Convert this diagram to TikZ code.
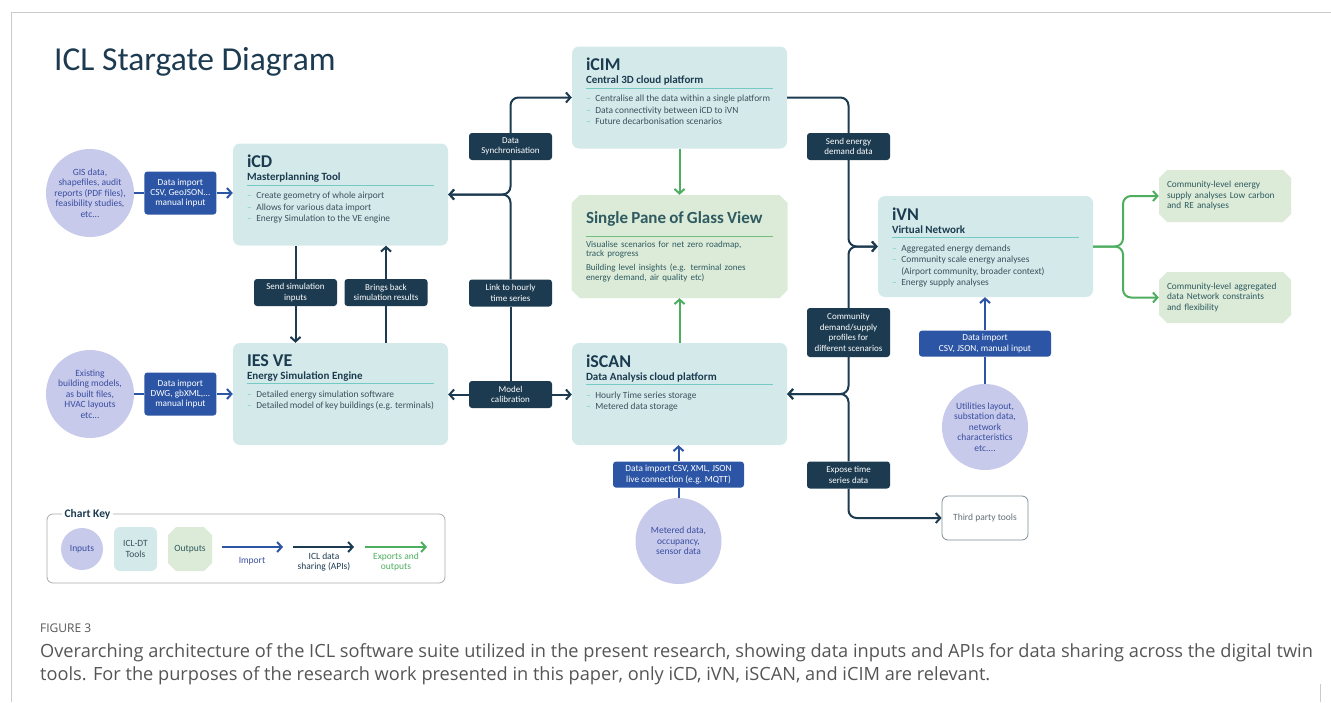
\documentclass[tikz,border=0pt]{standalone}
\usepackage{fontspec}
\setmainfont{Carlito}
\newfontfamily\capfont{Open Sans}
\usetikzlibrary{shapes.misc,positioning,arrows.meta}
\definecolor{navy}{HTML}{1C3B50}
\definecolor{impblue}{HTML}{2C55A5}
\definecolor{inpfill}{HTML}{C8CAEB}
\definecolor{inptext}{HTML}{3A4EA0}
\definecolor{toolfill}{HTML}{D4EAEA}
\definecolor{sepc}{HTML}{74CBC3}
\definecolor{bodytext}{HTML}{3B4F5C}
\definecolor{outfill}{HTML}{DCEBD8}
\definecolor{outtext}{HTML}{2E5A60}
\definecolor{expgreen}{HTML}{4DAE60}
\definecolor{keygray}{HTML}{A9A9A9}
\definecolor{thirdc}{HTML}{7D8B96}
\definecolor{capgray}{HTML}{555555}
\newcommand\toolhead[2]{\vspace*{2.5pt}{\color{navy}\fontsize{18}{18}\selectfont\bfseries #1\par}%
  {\color{navy}\fontsize{11}{13}\selectfont\bfseries #2\strut\par}%
  \nointerlineskip\noindent\textcolor{sepc}{\rule{187pt}{0.9pt}}\par\vspace{1.5pt}}
\newcommand\itm{\textcolor{sepc}{--}\enspace}
\newcommand\itmgap{\hphantom{--}\enspace}
\begin{document}
\begin{tikzpicture}[x=1pt,y=-1pt,every node/.style={inner sep=2pt},font=\fontsize{9.5}{10.4}\selectfont]
\tikzstyle{tool}=[fill=toolfill,rounded corners=7pt,inner xsep=14pt,inner ysep=9pt,font=\fontsize{9.4}{11.6}\selectfont,text=bodytext]
\tikzstyle{lbl}=[fill=navy,text=white,rounded corners=3pt,minimum width=83pt,minimum height=27pt,align=center,font=\fontsize{9}{10.4}\selectfont,inner sep=1pt]
\tikzstyle{imp}=[fill=impblue,text=white,rounded corners=3pt,align=center,font=\fontsize{9.3}{10.4}\selectfont,inner sep=1pt]
\tikzstyle{inp}=[circle,fill=inpfill,text=inptext,align=center,minimum size=88pt,inner sep=0pt]
\tikzstyle{outb}=[chamfered rectangle,chamfered rectangle xsep=4pt,chamfered rectangle ysep=4pt,fill=outfill,text=outtext,align=left]
\tikzstyle{api}=[draw=navy,line width=2pt,rounded corners=8pt]
\tikzstyle{impl}=[draw=impblue,line width=2pt]
\tikzstyle{expl}=[draw=expgreen,line width=2pt,rounded corners=8pt]
\tikzstyle{arrow}=[-{Straight Barb[length=4.5pt,width=10pt]}]
\useasboundingbox (0,0) rectangle (1331,702);
\draw[keygray!60,line width=0.6pt] (11,702)--(11,12)--(1331,12);
\draw[keygray!60,line width=0.6pt] (1320,684)--(1320,702);

\node[anchor=west,text=navy,font=\fontsize{33.5}{34}\selectfont] (title) at (52,62) {ICL Stargate Diagram};

% inputs on the left
\node[inp] (GIS) at (90,193) {GIS data,\\shapefiles, audit\\reports (PDF files),\\feasibility studies,\\etc...};
\node[imp,right=10pt of GIS,minimum width=72pt,minimum height=43pt] (ImpCD) {Data import\\CSV, GeoJSON...\\manual input};
\node[inp] (Exist) at (90,394) {Existing\\building models,\\as built files,\\HVAC layouts\\etc...};
\node[imp,right=10pt of Exist,minimum width=72pt,minimum height=43pt] (ImpVE) {Data import\\DWG, gbXML,...\\manual input};

% tools
\node[tool] (iCD) at (340.5,194.5) {\parbox[t][84pt][t]{187pt}{\toolhead{iCD}{Masterplanning Tool}
\itm Create geometry of whole airport\par
\itm Allows for various data import\par
\itm Energy Simulation to the VE engine}};
\node[tool] (IESVE) at (340.5,394) {\parbox[t][84pt][t]{187pt}{\toolhead{IES VE}{Energy Simulation Engine}
\itm Detailed energy simulation software\par
\itm Detailed model of key buildings (e.g. terminals)}};
\node[tool] (iCIM) at (679.5,97.5) {\parbox[t][84pt][t]{187pt}{\toolhead{iCIM}{Central 3D cloud platform}
\itm Centralise all the data within a single platform\par
\itm Data connectivity between iCD to iVN\par
\itm Future decarbonisation scenarios}};
\node[tool] (iSCAN) at (679.5,394) {\parbox[t][84pt][t]{187pt}{\toolhead{iSCAN}{Data Analysis cloud platform}
\itm Hourly Time series storage\par
\itm Metered data storage}};
\node[tool] (iVN) at (985.5,246.5) {\parbox[t][83pt][t]{187pt}{\toolhead{iVN}{Virtual Network}
\itm Aggregated energy demands\par
\itm Community scale energy analyses\par
\itmgap (Airport community, broader context)\par
\itm Energy supply analyses}};

\node[outb,minimum width=216pt,minimum height=103pt,text width=187pt] (Pane) at (679.5,246.5) {%
{\fontsize{17}{17}\selectfont\bfseries Single Pane of Glass View\par}
\vspace{3pt}\noindent\textcolor{expgreen!80}{\rule{187pt}{1pt}}\par\vspace{1pt}
{\fontsize{9}{9.6}\selectfont Visualise scenarios for net zero roadmap,\\track progress\par}
\vspace{4pt}
{\fontsize{9}{9.6}\selectfont Building level insights (e.g. terminal zones\\energy demand, air quality etc)\par}};

% labels on the links
\node[lbl] (SendSim) at (295.5,292.5) {Send simulation\\inputs};
\node[lbl] (BringBack) at (386,292.5) {Brings back\\simulation results};
\node[lbl] (DataSync) at (510.5,146.5) {Data\\Synchronisation};
\node[lbl] (LinkHourly) at (510.5,293) {Link to hourly\\time series};
\node[lbl] (ModelCal) at (510.5,394.5) {Model\\calibration};
\node[lbl] (SendEnergy) at (848.5,146.5) {Send energy\\demand data};
\node[lbl,minimum height=49pt] (Community) at (848.5,332.5) {Community\\demand/supply\\profiles for\\different scenarios};
\node[lbl] (Expose) at (848.5,475) {Expose time\\series data};

% iSCAN and iVN inputs
\node[inp,minimum size=86pt] (Meter) at (678.5,541) {Metered data,\\occupancy,\\sensor data};
\node[imp,above=10pt of Meter,minimum width=131pt,minimum height=26pt] (ImpSCAN) {Data import CSV, XML, JSON\\live connection (e.g. MQTT)};
\node[inp,minimum size=86pt] (Util) at (985,427) {Utilities layout,\\substation data,\\network\\characteristics\\etc....};
\node[imp,above=27pt of Util,minimum width=132pt,minimum height=26pt] (ImpVN) {Data import\\CSV, JSON, manual input};
\node[draw=thirdc,line width=0.8pt,rounded corners=6pt,fill=white,text=thirdc!80!black,minimum width=86pt,minimum height=44pt] (Third) at (985,518) {Third party tools};

% outputs
\node[outb,minimum width=132pt,minimum height=52pt,text width=116pt,font=\fontsize{9.3}{10.5}\selectfont] (OutRE) at (1225,196) {Community-level energy\\supply analyses Low carbon\\and RE analyses};
\node[outb,minimum width=132pt,minimum height=51pt,text width=116pt,font=\fontsize{9.3}{10.5}\selectfont] (OutNet) at (1225,297.5) {Community-level aggregated\\data Network constraints\\and flexibility};

% import links
\draw[impl] (GIS) -- (ImpCD);
\draw[impl,arrow] (ImpCD.east) -- (ImpCD.east -| iCD.west);
\draw[impl] (Exist) -- (ImpVE);
\draw[impl,arrow] (ImpVE.east) -- (ImpVE.east -| IESVE.west);
\draw[impl] (Meter) -- (ImpSCAN);
\draw[impl,arrow] (ImpSCAN.north) -- (ImpSCAN.north |- iSCAN.south);
\draw[impl] (Util) -- (ImpVN);
\draw[impl,arrow] (ImpVN.north) -- (ImpVN.north |- iVN.south);

% data sharing
\draw[api] (SendSim.north) -- (SendSim.north |- iCD.south);
\draw[api,arrow] (SendSim.south) -- (SendSim.south |- IESVE.north);
\draw[api] (BringBack.south) -- (BringBack.south |- IESVE.north);
\draw[api,arrow] (BringBack.north) -- (BringBack.north |- iCD.south);
\draw[api,arrow] (DataSync.north) |- (iCIM.west);
\draw[api,arrow] (DataSync.south) |- (iCD.east);
\draw[api,arrow] (LinkHourly.north) |- (iCD.east);
\draw[api] (LinkHourly.south) -- (ModelCal.north);
\draw[api,arrow] (ModelCal.west) -- (ModelCal.west -| IESVE.east);
\draw[api,arrow] (ModelCal.east) -- (ModelCal.east -| iSCAN.west);
\draw[api] (iCIM.east) -| (SendEnergy.north);
\draw[api,arrow] (SendEnergy.south) |- (iVN.west);
\draw[api,arrow] (Community.north) |- (iVN.west);
\draw[api,arrow] (Community.south) |- (iSCAN.east);
\draw[api,arrow] (Expose.north) |- (iSCAN.east);
\draw[api,arrow] (Expose.south) |- (Third.west);

% exports
\draw[expl,arrow] (iCIM.south) -- (Pane.north);
\draw[expl,arrow] (iSCAN.north) -- (Pane.south);
\coordinate (split) at (1123,246.5);
\draw[expl,arrow] (iVN.east) -- (split) |- (OutRE.west);
\draw[expl,arrow] (iVN.east) -- (split) |- (OutNet.west);

% chart key
\node[draw=keygray,line width=0.8pt,rounded corners=6pt,minimum width=398pt,minimum height=69pt] (Key) at (246,548.5) {};
\node[fill=white,text=navy,font=\fontsize{11.5}{12}\selectfont\bfseries,inner xsep=3pt] (KeyTitle) at (87.5,514) {Chart Key};
\node[inp,minimum size=42pt,font=\fontsize{9.5}{10}\selectfont] (KInp) at (82,549) {Inputs};
\node[fill=toolfill,rounded corners=6pt,minimum width=43pt,minimum height=44pt,align=center,text=bodytext,font=\fontsize{9.5}{10.5}\selectfont] (KTool) at (135.5,549) {ICL-DT\\Tools};
\node[outb,minimum width=44pt,minimum height=44pt,font=\fontsize{9.5}{10}\selectfont] (KOut) at (190,549) {Outputs};
\coordinate (ki1) at (222,547); \coordinate (ki2) at (283,547);
\coordinate (ka1) at (293,547); \coordinate (ka2) at (354,547);
\coordinate (ke1) at (365,547); \coordinate (ke2) at (427,547);
\draw[impl,arrow] (ki1) -- (ki2);
\draw[api,arrow] (ka1) -- (ka2);
\draw[expl,arrow] (ke1) -- (ke2);
\node[text=inptext,font=\fontsize{9.5}{10.5}\selectfont] (KImp) at (252,561) {Import};
\node[text=navy,align=center,font=\fontsize{9.5}{10.5}\selectfont] (KApi) at (324,562) {ICL data\\sharing (APIs)};
\node[text=expgreen,align=center,font=\fontsize{9.5}{10.5}\selectfont] (KExp) at (396,562) {Exports and\\outputs};

% caption
\node[anchor=base west,text=capgray,font=\capfont\fontsize{12}{12}\selectfont,inner sep=0pt] (FigNo) at (40,632) {FIGURE 3};
\node[anchor=base west,text=capgray,align=left,font=\capfont\fontsize{18.2}{23}\selectfont,inner sep=0pt] (Caption) at (40,680) {Overarching architecture of the ICL software suite utilized in the present research, showing data inputs and APIs for data sharing across the digital twin\\tools. For the purposes of the research work presented in this paper, only iCD, iVN, iSCAN, and iCIM are relevant.};
\end{tikzpicture}
\end{document}
